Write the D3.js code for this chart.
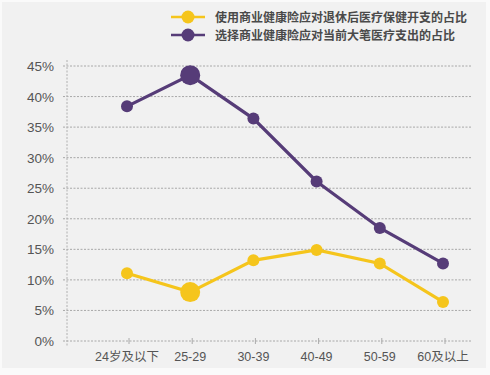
<!DOCTYPE html>
<html>
<head>
<meta charset="utf-8">
<script src="https://cdn.jsdelivr.net/npm/d3@7"></script>
<style>
  body { margin: 0; background: #fafafa; }
  svg { display: block; font-family: "Liberation Sans", "Noto Sans CJK SC", sans-serif; }
</style>
</head>
<body>
<div id="chart"></div>
<script>
// chart data
var ageGroups = ["24岁及以下", "25-29", "30-39", "40-49", "50-59", "60及以上"];
var retireCare = [11.1, 8.0, 13.2, 14.9, 12.7, 6.4];
var bigMedical = [38.4, 43.5, 36.4, 26.1, 18.5, 12.7];
var yTicks = [0, 5, 10, 15, 20, 25, 30, 35, 40, 45];
var seriesNames = ["使用商业健康险应对退休后医疗保健开支的占比", "选择商业健康险应对当前大笔医疗支出的占比"];
var seriesColors = ["#f5c51c", "#563c78"];
// index of the emphasised point in each series
var bigPoint = [1, 1];

var width = 490, height = 375;
var margin = {top: 66, right: 20, bottom: 34, left: 67};

var svg = d3.select("#chart").append("svg")
    .attr("width", width)
    .attr("height", height);

svg.append("rect")
    .attr("x", 2).attr("y", 2)
    .attr("width", 484).attr("height", 366)
    .attr("fill", "#f1f1f1");

var x = d3.scalePoint()
    .domain(ageGroups)
    .range([127, 443]);

var y = d3.scaleLinear()
    .domain([0, 45])
    .range([341, 66]);

// horizontal grid
svg.append("g")
    .selectAll("line")
    .data(yTicks)
    .enter()
    .append("line")
    .attr("x1", 63)
    .attr("x2", 471)
    .attr("y1", d => y(d))
    .attr("y2", d => y(d))
    .attr("stroke", "#a8a8a8")
    .attr("stroke-width", 1)
    .attr("stroke-dasharray", "2,1.5");

// dashed y axis line
svg.append("line")
    .attr("x1", margin.left).attr("x2", margin.left)
    .attr("y1", 60).attr("y2", 346)
    .attr("stroke", "#b0b0b0")
    .attr("stroke-dasharray", "2,1.5");

// y tick labels
svg.append("g")
    .selectAll("text")
    .data(yTicks)
    .enter()
    .append("text")
    .attr("x", 54)
    .attr("y", d => y(d) + 5)
    .attr("text-anchor", "end")
    .attr("font-size", 13.5)
    .attr("fill", "#555")
    .text(d => d + "%");

// x ticks and labels
var xAxis = svg.append("g");
xAxis.selectAll("line")
    .data(ageGroups)
    .enter()
    .append("line")
    .attr("x1", d => x(d) + 2).attr("x2", d => x(d) + 2)
    .attr("y1", 338).attr("y2", 344)
    .attr("stroke", "#aaa");
xAxis.selectAll("text")
    .data(ageGroups)
    .enter()
    .append("text")
    .attr("x", d => x(d))
    .attr("y", 361)
    .attr("text-anchor", "middle")
    .attr("font-size", 12.5)
    .attr("fill", "#555")
    .text(d => d);

var line = d3.line()
    .x((d, i) => x(ageGroups[i]))
    .y(d => y(d));

[retireCare, bigMedical].forEach(function(values, s) {
    var g = svg.append("g");
    g.append("path")
        .datum(values)
        .attr("d", line)
        .attr("fill", "none")
        .attr("stroke", seriesColors[s])
        .attr("stroke-width", 3.2);
    g.selectAll("circle")
        .data(values)
        .enter()
        .append("circle")
        .attr("cx", (d, i) => x(ageGroups[i]))
        .attr("cy", d => y(d))
        .attr("r", (d, i) => i === bigPoint[s] ? 10 : 6)
        .attr("fill", seriesColors[s]);
});

// legend
var legend = svg.append("g")
    .selectAll("g")
    .data(seriesNames)
    .enter()
    .append("g")
    .attr("transform", (d, i) => "translate(0," + (17 + i * 18) + ")");
legend.append("line")
    .attr("x1", 171).attr("x2", 205)
    .attr("stroke", (d, i) => seriesColors[i])
    .attr("stroke-width", 2.5);
legend.append("circle")
    .attr("cx", 188)
    .attr("r", 6.5)
    .attr("fill", (d, i) => seriesColors[i]);
legend.append("text")
    .attr("x", 215)
    .attr("y", 4.5)
    .attr("font-size", 12)
    .attr("font-weight", "bold")
    .attr("fill", "#4a4a4a")
    .attr("font-family", "Noto Sans CJK SC")
    .text(d => d);
</script>
</body>
</html>
